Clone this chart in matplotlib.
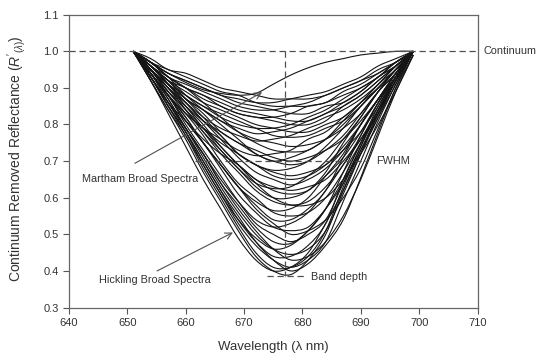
import numpy as np
import matplotlib
matplotlib.use("Agg")
import matplotlib.pyplot as plt
from matplotlib.path import Path
from matplotlib.patches import PathPatch

plt.rcParams['font.family'] = ['Liberation Sans', 'DejaVu Sans']
plt.rcParams['mathtext.fontset'] = 'custom'
plt.rcParams['mathtext.rm'] = 'Liberation Sans'
plt.rcParams['mathtext.it'] = 'Liberation Sans:italic'

# wavelength grid (nm) shared by every spectrum
wavelength = [651, 654, 657, 660, 663, 666, 669, 672, 675, 678, 681, 684, 687, 690, 693, 696, 699]

# continuum removed reflectance, Hickling Broad (deep absorption)
hickling = [
    [1.00, 0.92, 0.84, 0.76, 0.67, 0.59, 0.51, 0.44, 0.40, 0.39, 0.43, 0.50, 0.62, 0.73, 0.83, 0.93, 1.00],
    [1.00, 0.93, 0.85, 0.78, 0.70, 0.62, 0.55, 0.48, 0.43, 0.40, 0.42, 0.47, 0.54, 0.655, 0.78, 0.90, 1.00],
    [1.00, 0.92, 0.84, 0.77, 0.68, 0.60, 0.52, 0.45, 0.41, 0.41, 0.44, 0.51, 0.63, 0.74, 0.84, 0.93, 1.00],
    [1.00, 0.92, 0.83, 0.74, 0.65, 0.57, 0.49, 0.43, 0.40, 0.41, 0.45, 0.53, 0.62, 0.72, 0.82, 0.92, 1.00],
    [1.00, 0.94, 0.86, 0.78, 0.69, 0.61, 0.53, 0.47, 0.43, 0.41, 0.43, 0.48, 0.59, 0.70, 0.81, 0.91, 1.00],
    [1.00, 0.93, 0.86, 0.79, 0.72, 0.64, 0.57, 0.51, 0.46, 0.43, 0.44, 0.48, 0.55, 0.65, 0.77, 0.89, 0.99],
    [1.00, 0.93, 0.85, 0.78, 0.70, 0.62, 0.54, 0.48, 0.44, 0.44, 0.47, 0.53, 0.65, 0.75, 0.85, 0.93, 1.00],
    [1.00, 0.94, 0.87, 0.79, 0.71, 0.63, 0.56, 0.50, 0.46, 0.445, 0.46, 0.51, 0.61, 0.72, 0.83, 0.92, 1.00],
    [1.00, 0.93, 0.85, 0.77, 0.69, 0.61, 0.54, 0.49, 0.46, 0.47, 0.51, 0.57, 0.65, 0.75, 0.84, 0.92, 1.00],
    [1.00, 0.93, 0.86, 0.79, 0.72, 0.64, 0.58, 0.52, 0.48, 0.475, 0.51, 0.57, 0.67, 0.77, 0.86, 0.94, 1.00],
    [1.00, 0.94, 0.88, 0.80, 0.73, 0.66, 0.59, 0.53, 0.50, 0.48, 0.50, 0.54, 0.64, 0.74, 0.84, 0.93, 1.00],
    [1.00, 0.94, 0.88, 0.82, 0.75, 0.69, 0.63, 0.57, 0.53, 0.50, 0.51, 0.54, 0.60, 0.68, 0.79, 0.90, 0.99],
    [1.00, 0.95, 0.88, 0.81, 0.75, 0.68, 0.61, 0.56, 0.52, 0.51, 0.52, 0.57, 0.64, 0.73, 0.82, 0.91, 1.00],
    [1.00, 0.94, 0.87, 0.79, 0.72, 0.65, 0.59, 0.54, 0.52, 0.53, 0.56, 0.62, 0.69, 0.77, 0.86, 0.93, 1.00],
    [1.00, 0.94, 0.88, 0.82, 0.75, 0.69, 0.63, 0.58, 0.54, 0.54, 0.57, 0.62, 0.71, 0.80, 0.87, 0.94, 1.00],
    [1.00, 0.95, 0.89, 0.83, 0.77, 0.70, 0.64, 0.60, 0.56, 0.55, 0.56, 0.60, 0.67, 0.75, 0.83, 0.92, 1.00],
    [1.00, 0.94, 0.88, 0.81, 0.75, 0.69, 0.63, 0.59, 0.565, 0.57, 0.60, 0.66, 0.72, 0.80, 0.87, 0.94, 1.00],
    [1.00, 0.95, 0.90, 0.85, 0.79, 0.74, 0.69, 0.64, 0.60, 0.58, 0.58, 0.60, 0.65, 0.72, 0.80, 0.89, 0.99],
    [1.00, 0.95, 0.90, 0.84, 0.78, 0.72, 0.67, 0.62, 0.59, 0.58, 0.59, 0.63, 0.69, 0.76, 0.84, 0.92, 1.00],
    [1.00, 0.95, 0.89, 0.84, 0.79, 0.73, 0.68, 0.63, 0.60, 0.60, 0.62, 0.67, 0.75, 0.82, 0.89, 0.95, 1.00],
    [1.00, 0.96, 0.91, 0.85, 0.80, 0.74, 0.69, 0.65, 0.62, 0.61, 0.62, 0.66, 0.71, 0.78, 0.86, 0.93, 1.00],
]

# continuum removed reflectance, Martham Broad (shallower absorption)
martham = [
    [1.00, 0.93, 0.86, 0.81, 0.76, 0.72, 0.69, 0.65, 0.63, 0.62, 0.63, 0.65, 0.70, 0.76, 0.83, 0.92, 1.00],
    [1.00, 0.95, 0.90, 0.84, 0.78, 0.73, 0.68, 0.64, 0.625, 0.63, 0.66, 0.70, 0.76, 0.82, 0.89, 0.95, 1.00],
    [1.00, 0.96, 0.91, 0.86, 0.81, 0.76, 0.71, 0.67, 0.65, 0.635, 0.65, 0.68, 0.73, 0.80, 0.87, 0.93, 1.00],
    [1.00, 0.96, 0.92, 0.87, 0.82, 0.77, 0.72, 0.69, 0.66, 0.65, 0.66, 0.69, 0.74, 0.80, 0.87, 0.94, 1.00],
    [1.00, 0.94, 0.88, 0.83, 0.79, 0.75, 0.72, 0.69, 0.67, 0.66, 0.67, 0.69, 0.73, 0.78, 0.85, 0.93, 1.00],
    [1.00, 0.96, 0.91, 0.86, 0.81, 0.77, 0.72, 0.69, 0.675, 0.68, 0.70, 0.74, 0.79, 0.85, 0.90, 0.95, 1.00],
    [1.00, 0.97, 0.93, 0.88, 0.84, 0.80, 0.76, 0.72, 0.70, 0.69, 0.70, 0.73, 0.77, 0.83, 0.89, 0.94, 1.00],
    [1.00, 0.96, 0.92, 0.87, 0.83, 0.78, 0.75, 0.72, 0.70, 0.71, 0.73, 0.76, 0.81, 0.86, 0.91, 0.96, 1.00],
    [1.00, 0.95, 0.89, 0.85, 0.81, 0.78, 0.75, 0.73, 0.71, 0.70, 0.71, 0.73, 0.76, 0.81, 0.87, 0.93, 1.00],
    [1.00, 0.94, 0.88, 0.83, 0.79, 0.76, 0.73, 0.715, 0.72, 0.73, 0.76, 0.78, 0.82, 0.86, 0.91, 0.95, 1.00],
    [1.00, 0.97, 0.93, 0.90, 0.86, 0.82, 0.78, 0.75, 0.73, 0.725, 0.73, 0.76, 0.80, 0.85, 0.90, 0.95, 1.00],
    [1.00, 0.95, 0.91, 0.87, 0.84, 0.81, 0.78, 0.76, 0.75, 0.74, 0.745, 0.76, 0.79, 0.83, 0.89, 0.94, 1.00],
    [1.00, 0.95, 0.90, 0.86, 0.82, 0.79, 0.77, 0.755, 0.76, 0.77, 0.79, 0.81, 0.85, 0.88, 0.92, 0.96, 1.00],
    [1.00, 0.96, 0.92, 0.88, 0.85, 0.83, 0.81, 0.79, 0.77, 0.765, 0.77, 0.79, 0.81, 0.85, 0.90, 0.95, 1.00],
    [1.00, 0.95, 0.91, 0.87, 0.84, 0.81, 0.79, 0.775, 0.78, 0.79, 0.81, 0.83, 0.86, 0.89, 0.93, 0.96, 1.00],
    [1.00, 0.96, 0.92, 0.89, 0.86, 0.84, 0.82, 0.80, 0.79, 0.78, 0.78, 0.80, 0.82, 0.86, 0.90, 0.95, 1.00],
    [1.00, 0.95, 0.91, 0.88, 0.85, 0.82, 0.80, 0.79, 0.79, 0.80, 0.82, 0.84, 0.87, 0.90, 0.93, 0.97, 1.00],
    [1.00, 0.96, 0.93, 0.90, 0.88, 0.85, 0.83, 0.82, 0.81, 0.80, 0.80, 0.82, 0.84, 0.87, 0.91, 0.96, 1.00],
    [1.00, 0.97, 0.93, 0.90, 0.88, 0.86, 0.84, 0.83, 0.82, 0.81, 0.81, 0.83, 0.85, 0.88, 0.92, 0.96, 1.00],
    [1.00, 0.96, 0.92, 0.90, 0.87, 0.85, 0.83, 0.82, 0.82, 0.83, 0.85, 0.86, 0.89, 0.91, 0.94, 0.97, 1.00],
    [1.00, 0.97, 0.94, 0.92, 0.90, 0.88, 0.86, 0.85, 0.84, 0.83, 0.83, 0.85, 0.86, 0.89, 0.93, 0.96, 1.00],
    [1.00, 0.97, 0.93, 0.91, 0.89, 0.87, 0.85, 0.84, 0.84, 0.85, 0.86, 0.88, 0.90, 0.92, 0.95, 0.97, 1.00],
    [1.00, 0.97, 0.95, 0.93, 0.91, 0.89, 0.88, 0.86, 0.85, 0.85, 0.85, 0.86, 0.88, 0.90, 0.93, 0.97, 1.00],
    [1.00, 0.97, 0.94, 0.92, 0.90, 0.88, 0.87, 0.86, 0.86, 0.87, 0.88, 0.89, 0.91, 0.93, 0.96, 0.98, 1.00],
    [1.00, 0.98, 0.95, 0.94, 0.92, 0.90, 0.89, 0.88, 0.87, 0.87, 0.87, 0.88, 0.90, 0.92, 0.94, 0.97, 1.00],
    [1.00, 0.97, 0.94, 0.915, 0.895, 0.885, 0.88, 0.885, 0.91, 0.935, 0.955, 0.97, 0.98, 0.99, 0.995, 1.00, 1.00],
]

continuum = 1.0
band_centre = 677
band_depth = 0.385
fwhm_level = 0.70
fwhm_range = [661.6, 691.3]


def spline_path(x, y):
    # Catmull-Rom curve through the sampled points, as cubic Bezier segments
    pts = np.column_stack([x, y]).astype(float)
    n = len(pts)
    verts = [pts[0]]
    codes = [Path.MOVETO]
    for i in range(n - 1):
        p0 = pts[i - 1] if i > 0 else pts[i]
        p1 = pts[i]
        p2 = pts[i + 1]
        p3 = pts[i + 2] if i + 2 < n else pts[i + 1]
        verts += [p1 + (p2 - p0) / 6.0, p2 - (p3 - p1) / 6.0, p2]
        codes += [Path.CURVE4] * 3
    return Path(verts, codes)


fig = plt.figure(figsize=(5.47, 3.58), dpi=100)
ax = fig.add_axes([0.126, 0.141, 0.747, 0.818])

for spectrum in hickling + martham:
    ax.add_patch(PathPatch(spline_path(wavelength, spectrum), fill=False,
                           lw=0.8, edgecolor='#151515'))

dash = dict(color='#505050', lw=0.9, ls=(0, (5, 3)))
ax.plot([640, 710], [continuum, continuum], **dash)
ax.plot([band_centre, band_centre], [continuum, band_depth], **dash)
ax.plot(fwhm_range, [fwhm_level, fwhm_level], **dash)
ax.plot([674, 680.4], [band_depth, band_depth], **dash)

txt = dict(fontsize=7.8, color='#333333', va='center')
ax.text(711, continuum, 'Continuum', ha='left', clip_on=False, **txt)
ax.text(692.6, fwhm_level, 'FWHM', ha='left', **txt)
ax.text(681.5, 0.383, 'Band depth', ha='left', **txt)
ax.text(652.2, 0.652, 'Martham Broad Spectra', ha='center', **txt)
ax.text(654.7, 0.375, 'Hickling Broad Spectra', ha='center', **txt)

arrow = dict(arrowstyle='->', color='#505050', lw=0.8, mutation_scale=12,
             shrinkA=0, shrinkB=0)
ax.annotate('', xy=(673.1, 0.888), xytext=(651.3, 0.694), arrowprops=arrow)
ax.annotate('', xy=(668.1, 0.505), xytext=(655.1, 0.40), arrowprops=arrow)

ax.set_xlim(640, 710)
ax.set_ylim(0.3, 1.1)
ax.set_xticks(np.arange(640, 711, 10))
ax.set_yticks(np.arange(0.3, 1.11, 0.1))
ax.yaxis.set_major_formatter(plt.FormatStrFormatter('%.1f'))
ax.tick_params(direction='out', length=4, width=0.8, color='#555555',
               labelsize=8, labelcolor='#333333', top=False, right=False)
for s in ax.spines.values():
    s.set_color('#666666')
    s.set_linewidth(0.9)

ax.set_xlabel('Wavelength (\u03bb nm)', fontsize=9.5, color='#333333')
ax.set_ylabel(r"Continuum Removed Reflectance ($R'_{(\lambda)}$)", fontsize=10, color='#333333')
ax.xaxis.set_label_coords(0.5, -0.115)
ax.yaxis.set_label_coords(-0.10, 0.51)

fig.savefig('out.png', dpi=100)
